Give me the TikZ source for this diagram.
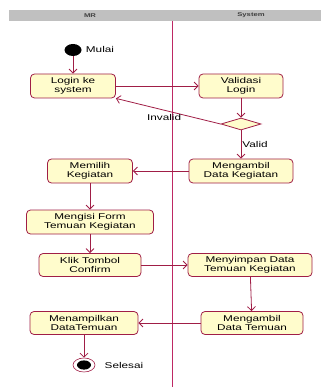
\documentclass[tikz,border=0pt]{standalone}
\usepackage{fontspec}
\newfontfamily\umlfont[FakeStretch=1.4]{Liberation Sans}
\usetikzlibrary{positioning,shapes.geometric,arrows.meta}
\definecolor{umlred}{RGB}{160,30,70}
\definecolor{lanered}{RGB}{190,40,100}
\definecolor{umlfill}{RGB}{255,252,204}
\definecolor{lanegray}{RGB}{192,192,192}
\begin{document}
\begin{tikzpicture}[line width=0.8pt, >={Straight Barb[length=4pt,width=8pt]},
act/.style = {draw=umlred, rectangle, rounded corners=4pt, fill=umlfill, text=black, align=center, minimum height=24pt, inner sep=1pt, font=\umlfont\fontsize{8.4}{9}\selectfont},
dec/.style = {draw=umlred, diamond, fill=umlfill, minimum width=40pt, minimum height=12pt, inner sep=0pt},
start/.style = {ellipse, fill=black, minimum width=17pt, minimum height=12pt, inner sep=0pt},
stop/.style = {ellipse, draw=umlred, fill=white, line width=0.6pt, minimum width=22pt, minimum height=14pt, inner sep=0pt,
  path picture={\fill[black] (path picture bounding box.center) ellipse (7pt and 4.6pt);}},
txt/.style = {inner sep=1pt, text=black, font=\umlfont\fontsize{8.4}{9}\selectfont},
hdr/.style = {text=black!75, font=\umlfont\bfseries\fontsize{5.5}{6}\selectfont}]

\useasboundingbox (0,0) rectangle (321pt,-387pt);
% swimlanes
\fill[lanegray] (9pt,-10pt) rectangle (321pt,-21pt);
\node[hdr] (mr) at (90pt,-15.5pt) {MR};
\node[hdr] (sys) at (251pt,-15.5pt) {System};
\draw[lanered, line width=1pt] (172pt,-21pt) -- (172pt,-387pt);

\node[start] (1) at (73pt,-50pt) {};
    \node[txt, right of=1, node distance=27pt] (mulai) {Mulai};
    \node[act, below of=1, node distance=36pt, minimum width=85pt] (2) {Login ke\\system};
    \node[act, right of=2, node distance=168pt, minimum width=84pt] (3) {Validasi\\Login};
    \node[dec, below of=3, node distance=38pt] (4) {};
    \node[act, below of=4, node distance=47pt, minimum width=104pt] (5) {Mengambil\\Data Kegiatan};
    \node[act, left of=5, node distance=151pt, minimum width=85pt] (6) {Memilih\\Kegiatan};
    \node[act, below of=6, node distance=51pt, minimum width=127pt] (7) {Mengisi Form\\Temuan Kegiatan};
    \node[act, below of=7, node distance=43pt, minimum width=102pt, minimum height=23pt] (8) {Klik Tombol\\Confirm};
    \node[act, right of=8, node distance=160pt, minimum width=124pt, minimum height=23pt] (9) {Menyimpan Data\\Temuan Kegiatan};
    \node[act, below of=9, node distance=58pt, xshift=2pt, minimum width=102pt, minimum height=23pt] (10) {Mengambil\\Data Temuan};
    \node[act, left of=10, node distance=168pt, minimum width=108pt, minimum height=23pt] (11) {Menampilkan\\DataTemuan};
    \node[stop, below of=11, node distance=42pt] (12) {};
    \node[txt, right of=12, node distance=40pt] (selesai) {Selesai};

    \draw [->, umlred] (1) -- (2);
    \draw [->, umlred] (2) -- (3);
    \draw [->, umlred] (3) -- (4);
    \draw [->, umlred] (4.west) -- node[txt, pos=0.54, below=3pt] (inv) {Invalid} (2.south east);
    \draw [->, umlred] (4) -- node[txt, right] (val) {Valid} (5);
    \draw [->, umlred] (5) -- (6);
    \draw [->, umlred] (6) -- (7);
    \draw [->, umlred] (7) -- (8);
    \draw [->, umlred] (8) -- (9);
    \draw [->, umlred] (9) -- (10);
    \draw [->, umlred] (10) -- (11);
    \draw [->, umlred] (11) -- (12);

\end{tikzpicture}
\end{document}
